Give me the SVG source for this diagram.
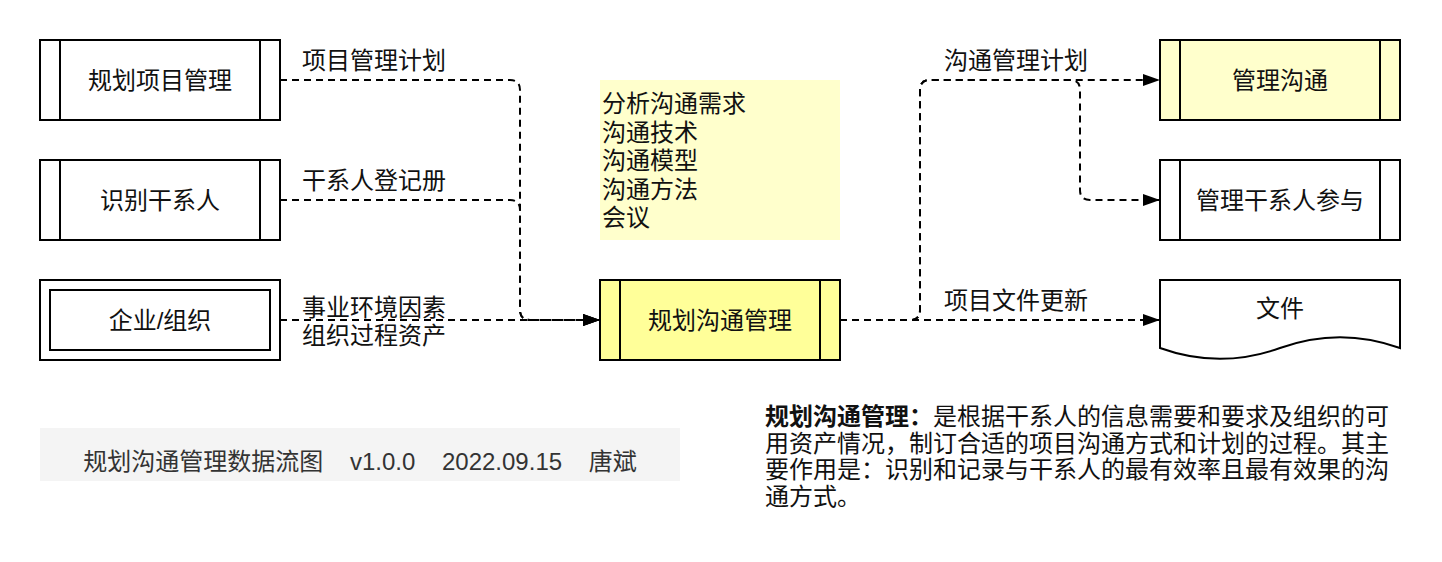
<svg xmlns="http://www.w3.org/2000/svg" width="1442" height="562" viewBox="0 0 1442 562">
<style>
text{font-family:"Liberation Sans","Noto Sans CJK SC",sans-serif;font-size:24px;fill:#111}
.box{fill:#fff;stroke:#000;stroke-width:2}
.ln{stroke:#000;stroke-width:2;fill:none}
.c{text-anchor:middle}
.edge{fill:none;stroke:#000;stroke-width:2;stroke-dasharray:7 5;marker-end:url(#arr)}
</style>
<defs>
<marker id="arr" markerWidth="17" markerHeight="12" refX="17" refY="6" orient="auto" markerUnits="userSpaceOnUse"><path d="M0,0 L17,6 L0,12 z" fill="#000"/></marker>
</defs>
<rect width="1442" height="562" fill="#fff"/>

<g id="connectors">
<path class="edge" d="M280,80 H510 Q520,80 520,90 V310 Q520,320 530,320 H600"/>
<path class="edge" d="M280,200 H510 Q520,200 520,210 V310 Q520,320 530,320 H600"/>
<path class="edge" d="M280,320 H600"/>
<path class="edge" d="M840,320 H910 Q920,320 920,310 V90 Q920,80 930,80 H1160"/>
<path class="edge" d="M840,320 H910 Q920,320 920,310 V90 Q920,80 930,80 H1070 Q1080,80 1080,90 V190 Q1080,200 1090,200 H1160"/>
<path class="edge" d="M840,320 H1160"/>
<text x="302" y="69">项目管理计划</text>
<text x="302" y="189">干系人登记册</text>
<text x="302" y="316">事业环境因素</text>
<text x="302" y="344">组织过程资产</text>
<text x="944" y="69">沟通管理计划</text>
<text x="944" y="309">项目文件更新</text>
</g>

<g id="n1">
<rect class="box" x="40" y="40" width="240" height="80"/>
<path class="ln" d="M60,40 V120 M260,40 V120"/>
<text class="c" x="160" y="89">规划项目管理</text>
</g>
<g id="n2">
<rect class="box" x="40" y="160" width="240" height="80"/>
<path class="ln" d="M60,160 V240 M260,160 V240"/>
<text class="c" x="160" y="209">识别干系人</text>
</g>
<g id="n3">
<rect class="box" x="40" y="280" width="240" height="80"/>
<rect class="box" x="50" y="290" width="220" height="60"/>
<text class="c" x="160" y="329">企业/组织</text>
</g>
<g id="note">
<rect x="600" y="80" width="240" height="160" fill="#FFFFCC"/>
<text x="602" y="112">分析沟通需求</text>
<text x="602" y="140.5">沟通技术</text>
<text x="602" y="169">沟通模型</text>
<text x="602" y="197.5">沟通方法</text>
<text x="602" y="226">会议</text>
</g>
<g id="center">
<rect class="box" x="600" y="280" width="240" height="80" style="fill:#FFFF99"/>
<path class="ln" d="M620,280 V360 M820,280 V360"/>
<text class="c" x="720" y="329">规划沟通管理</text>
</g>
<g id="r1">
<rect class="box" x="1160" y="40" width="240" height="80" style="fill:#FFFFCC"/>
<path class="ln" d="M1180,40 V120 M1380,40 V120"/>
<text class="c" x="1280" y="89">管理沟通</text>
</g>
<g id="r2">
<rect class="box" x="1160" y="160" width="240" height="80"/>
<path class="ln" d="M1180,160 V240 M1380,160 V240"/>
<text class="c" x="1280" y="209">管理干系人参与</text>
</g>
<g id="r3">
<path class="box" d="M1160,280 H1400 V348 Q1340,326.4 1280,348 Q1220,369.6 1160,348 Z"/>
<text class="c" x="1280" y="317">文件</text>
</g>
<g id="footer">
<rect x="40" y="428" width="640" height="53" fill="#F4F4F4"/>
<text class="c" x="360" y="470" style="fill:#333" xml:space="preserve">规划沟通管理数据流图    v1.0.0    2022.09.15    唐斌</text>
</g>
<g id="desc">
<text x="765" y="425"><tspan font-weight="bold">规划沟通管理：</tspan>是根据干系人的信息需要和要求及组织的可</text>
<text x="765" y="451.7">用资产情况，制订合适的项目沟通方式和计划的过程。其主</text>
<text x="765" y="478.4">要作用是：识别和记录与干系人的最有效率且最有效果的沟</text>
<text x="765" y="505">通方式。</text>
</g>
</svg>
